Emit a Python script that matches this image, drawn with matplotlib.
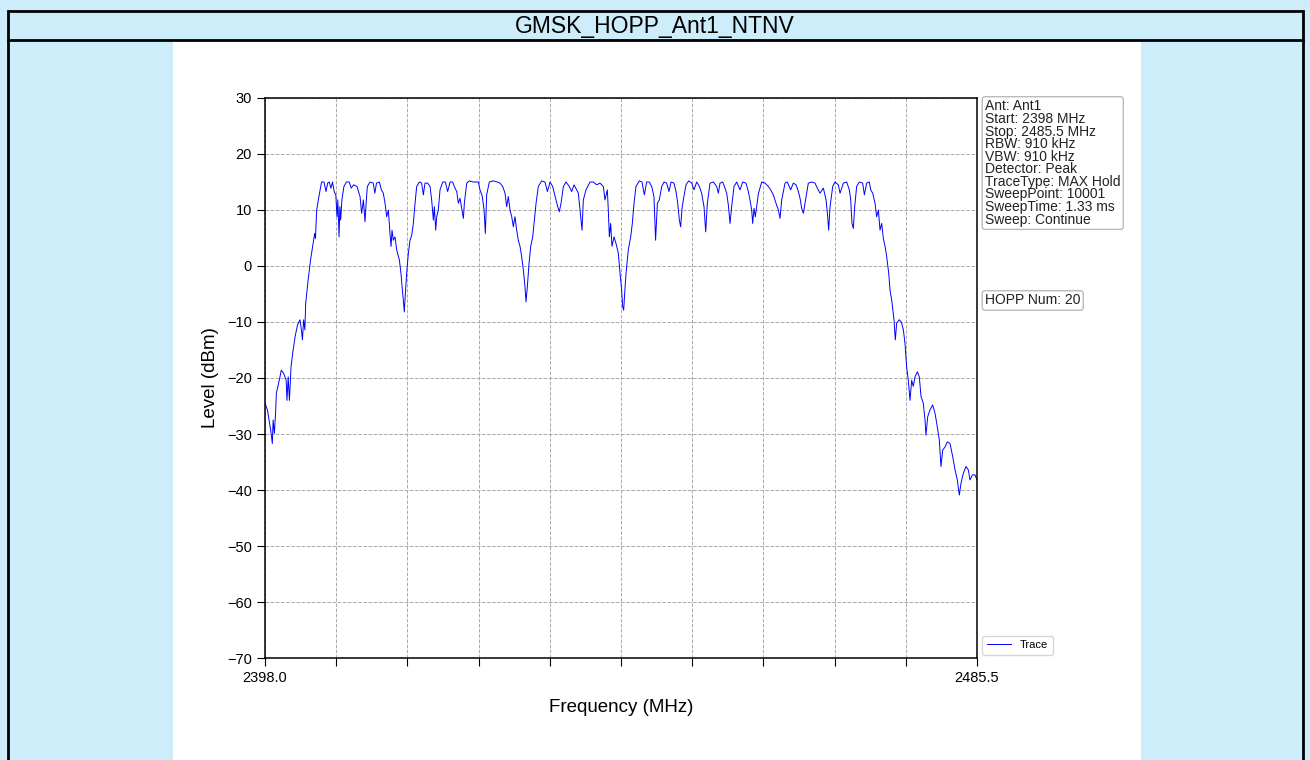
import matplotlib
matplotlib.use("Agg")
import matplotlib.pyplot as plt
from matplotlib.patches import Rectangle
from matplotlib.lines import Line2D

plt.rcParams["font.family"] = ["Liberation Sans", "DejaVu Sans"]

# trace (MHz, dBm)
freq = [
    2398.0, 2398.3, 2398.5, 2398.7, 2398.9, 2399.0, 2399.15, 2399.3, 2399.4, 2399.8,
    2400.0, 2400.3, 2400.6, 2400.7, 2400.85, 2401.0, 2401.2, 2401.4, 2401.7, 2402.0,
    2402.3, 2402.5, 2402.6, 2402.75, 2402.9, 2403.0, 2403.3, 2403.6, 2403.9, 2404.1,
    2404.2, 2404.35, 2404.7, 2404.95, 2405.25, 2405.5, 2405.7, 2405.9, 2406.1, 2406.3,
    2406.5, 2406.7, 2406.85, 2406.95, 2407.1, 2407.2, 2407.3, 2407.45, 2407.7, 2408.0,
    2408.35, 2408.6, 2408.9, 2409.3, 2409.68, 2409.88, 2410.09, 2410.29, 2410.41, 2410.58,
    2410.9, 2411.3, 2411.5, 2411.7, 2412.05, 2412.3, 2412.54, 2412.75, 2412.95, 2413.16,
    2413.36, 2413.49, 2413.61, 2413.77, 2413.98, 2414.18, 2414.51, 2414.71, 2414.88, 2415.0,
    2415.12, 2415.25, 2415.41, 2415.62, 2415.82, 2416.03, 2416.23, 2416.44, 2416.64, 2416.97,
    2417.25, 2417.46, 2417.66, 2417.99, 2418.28, 2418.48, 2418.69, 2418.81, 2418.98, 2419.1,
    2419.3, 2419.51, 2419.84, 2420.16, 2420.45, 2420.74, 2421.06, 2421.35, 2421.56, 2421.76,
    2421.97, 2422.17, 2422.38, 2422.5, 2422.79, 2423.11, 2423.6, 2423.93, 2424.22, 2424.42,
    2424.71, 2424.92, 2425.08, 2425.24, 2425.57, 2426.06, 2426.55, 2426.88, 2427.21, 2427.5,
    2427.7, 2427.9, 2428.11, 2428.32, 2428.52, 2428.72, 2428.93, 2429.13, 2429.34, 2429.54,
    2429.75, 2429.95, 2430.08, 2430.24, 2430.45, 2430.65, 2430.9, 2431.06, 2431.31, 2431.59,
    2432.0, 2432.41, 2432.7, 2433.03, 2433.35, 2433.56, 2433.76, 2433.97, 2434.17, 2434.38,
    2434.67, 2434.99, 2435.4, 2435.69, 2435.98, 2436.51, 2436.8, 2436.96, 2437.12, 2437.45,
    2437.94, 2438.35, 2438.76, 2439.17, 2439.58, 2439.78, 2440.07, 2440.19, 2440.32, 2440.48,
    2440.64, 2440.89, 2441.14, 2441.42, 2441.63, 2441.83, 2441.96, 2442.08, 2442.2, 2442.37,
    2442.65, 2442.94, 2443.14, 2443.35, 2443.59, 2444.0, 2444.33, 2444.62, 2444.9, 2445.23,
    2445.52, 2445.8, 2446.0, 2446.22, 2446.46, 2446.75, 2447.04, 2447.36, 2447.65, 2447.9,
    2448.26, 2448.51, 2448.72, 2448.92, 2449.08, 2449.25, 2449.41, 2449.74, 2450.07, 2450.44,
    2450.72, 2451.05, 2451.38, 2451.66, 2451.95, 2452.16, 2452.36, 2452.69, 2453.1, 2453.51,
    2453.71, 2453.92, 2454.25, 2454.53, 2454.74, 2454.94, 2455.15, 2455.35, 2455.64, 2455.97,
    2456.38, 2456.7, 2457.11, 2457.4, 2457.6, 2457.81, 2457.93, 2458.1, 2458.26, 2458.63,
    2459.04, 2459.45, 2459.86, 2460.14, 2460.47, 2460.8, 2461.09, 2461.29, 2461.5, 2461.91,
    2462.19, 2462.6, 2462.93, 2463.26, 2463.55, 2463.75, 2463.96, 2464.16, 2464.36, 2464.77,
    2465.18, 2465.59, 2465.88, 2466.21, 2466.62, 2466.95, 2467.15, 2467.27, 2467.44, 2467.77,
    2468.05, 2468.46, 2468.67, 2469.08, 2469.49, 2469.81, 2469.98, 2470.14, 2470.3, 2470.47,
    2470.71, 2471.04, 2471.45, 2471.66, 2471.94, 2472.27, 2472.44, 2472.68, 2472.97, 2473.17,
    2473.38, 2473.58, 2473.79, 2473.99, 2474.2, 2474.4, 2474.65, 2474.81, 2475.02, 2475.22,
    2475.3, 2475.46, 2475.63, 2475.95, 2476.2, 2476.45, 2476.65, 2476.85, 2477.06, 2477.27,
    2477.47, 2477.67, 2477.88, 2478.17, 2478.41, 2478.62, 2478.9, 2479.11, 2479.23, 2479.44,
    2479.72, 2480.05, 2480.34, 2480.62, 2480.87, 2481.07, 2481.28, 2481.57, 2481.85, 2482.18,
    2482.51, 2482.8, 2483.08, 2483.33, 2483.53, 2483.82, 2484.15, 2484.43, 2484.64, 2484.93,
    2485.25, 2485.5,
]
level = [
    -24.5, -25.7, -27.5, -29.3, -31.7, -27.5, -29.9, -26.3, -22.7, -20.1,
    -18.6, -19.2, -20.4, -24.0, -19.8, -24.0, -18.0, -15.6, -12.6, -10.5,
    -9.6, -11.7, -13.2, -9.6, -11.4, -6.7, -2.5, 1.1, 4.0, 5.8,
    4.9, 10.0, 13.0, 15.0, 15.0, 13.3, 14.8, 15.0, 13.9, 15.0,
    13.3, 12.7, 8.8, 11.8, 5.2, 10.6, 8.2, 11.8, 14.2, 15.0,
    15.0, 13.9, 14.5, 14.2, 12.4, 9.4, 11.8, 7.9, 10.9, 14.2,
    15.0, 14.8, 13.0, 14.8, 15.0, 13.6, 13.0, 11.2, 8.8, 10.0,
    5.8, 3.5, 6.4, 4.6, 5.2, 2.9, 1.1, -1.3, -4.3, -6.1,
    -8.2, -4.9, -1.3, 2.3, 4.6, 5.5, 7.6, 11.2, 14.2, 15.0,
    14.8, 12.7, 14.8, 14.8, 14.2, 11.8, 8.2, 10.6, 6.4, 8.8,
    10.0, 13.6, 15.0, 15.0, 13.3, 15.0, 15.0, 13.9, 13.3, 11.2,
    12.1, 10.3, 8.5, 11.2, 14.8, 15.2, 15.0, 15.0, 15.0, 13.6,
    12.4, 10.0, 5.8, 12.7, 15.0, 15.2, 15.0, 14.8, 14.2, 13.0,
    10.6, 12.4, 10.0, 8.8, 7.0, 8.8, 6.4, 4.6, 3.5, 1.7,
    -0.7, -3.7, -6.4, -3.7, 0.5, 3.5, 5.2, 7.6, 11.2, 14.2,
    15.2, 15.0, 13.3, 15.0, 14.2, 13.0, 11.8, 10.6, 9.7, 11.2,
    14.2, 15.0, 14.2, 13.3, 14.5, 13.0, 8.8, 6.4, 11.8, 13.6,
    15.0, 15.0, 14.5, 14.8, 14.2, 11.8, 13.6, 10.0, 5.2, 7.6,
    3.5, 5.2, 4.0, 2.3, -1.3, -4.3, -7.3, -7.9, -4.9, -1.3,
    2.9, 5.2, 7.6, 11.2, 14.2, 15.2, 15.0, 12.7, 15.0, 15.0,
    14.2, 12.4, 4.6, 11.2, 11.8, 14.2, 15.0, 14.8, 13.3, 15.0,
    14.8, 13.3, 11.2, 8.2, 7.0, 10.3, 11.8, 14.5, 15.2, 14.8,
    13.6, 15.0, 14.2, 13.0, 10.6, 6.1, 11.2, 14.8, 15.0, 14.2,
    13.0, 14.8, 15.0, 13.9, 13.0, 10.9, 7.6, 10.6, 14.2, 15.0,
    13.6, 15.0, 14.8, 13.3, 11.8, 10.0, 7.6, 10.3, 8.8, 12.9,
    15.0, 14.8, 14.2, 13.6, 12.7, 11.2, 10.0, 8.5, 11.8, 14.8,
    15.0, 13.6, 14.8, 14.5, 13.3, 12.1, 10.3, 9.4, 11.2, 14.8,
    15.0, 14.8, 13.9, 13.0, 13.9, 11.8, 8.8, 6.4, 10.6, 14.2,
    15.0, 14.5, 13.0, 14.8, 15.0, 13.6, 11.8, 7.6, 6.7, 10.6,
    14.2, 15.0, 14.8, 12.7, 14.8, 15.0, 13.6, 13.0, 11.2, 8.8,
    10.0, 6.4, 7.6, 4.9, 3.5, 1.7, -1.3, -4.3, -6.1, -8.5,
    -9.6, -13.2, -10.2, -9.6, -10.0, -11.4, -13.8, -18.0, -20.4, -24.0,
    -20.4, -21.5, -19.8, -18.9, -19.8, -23.3, -24.5, -27.5, -30.2, -26.9,
    -25.7, -24.8, -26.3, -28.7, -31.1, -35.8, -32.9, -32.3, -31.4, -31.7,
    -34.0, -36.4, -38.2, -40.9, -38.8, -37.0, -35.8, -36.4, -38.2, -37.3,
    -37.3, -38.2,
]

f_start = 2398.0
f_stop = 2485.5
x_ticks = [f_start + k * (f_stop - f_start) / 10 for k in range(11)]
x_labels = ["2398.0"] + [""] * 9 + ["2485.5"]
y_ticks = list(range(-70, 31, 10))

info_lines = [
    "Ant: Ant1",
    "Start: 2398 MHz",
    "Stop: 2485.5 MHz",
    "RBW: 910 kHz",
    "VBW: 910 kHz",
    "Detector: Peak",
    "TraceType: MAX Hold",
    "SweepPoint: 10001",
    "SweepTime: 1.33 ms",
    "Sweep: Continue",
]
hop_text = "HOPP Num: 20"
title = "GMSK_HOPP_Ant1_NTNV"

W, H = 1310, 760
fig = plt.figure(figsize=(W / 100, H / 100), dpi=100)
fig.patch.set_facecolor("#cdedfb")

def fx(px):
    return px / W

def fy(py):
    return 1 - py / H

# white panel and frame
fig.patches.append(Rectangle((fx(173), 0), fx(1141) - fx(173), fy(41), transform=fig.transFigure,
                             facecolor="white", edgecolor="none", zorder=-2))
fig.patches.append(Rectangle((fx(8), fy(40)), fx(1303) - fx(8), fy(11) - fy(40), transform=fig.transFigure,
                             facecolor="none", edgecolor="black", linewidth=2, zorder=-1))
fig.lines.append(Line2D([fx(8), fx(8)], [0, fy(40)], transform=fig.transFigure, color="black", linewidth=2))
fig.lines.append(Line2D([fx(1303), fx(1303)], [0, fy(40)], transform=fig.transFigure, color="black", linewidth=2))
fig.text(0.5, fy(26), title, ha="center", va="center", fontsize=16.5)

ax = fig.add_axes([fx(265), fy(658), fx(977) - fx(265), fy(98) - fy(658)])
ax.set_zorder(2)
ax.plot(freq, level, color="blue", linewidth=0.7, label="Trace")
ax.set_xlim(f_start, f_stop)
ax.set_ylim(-70, 30)
ax.set_xticks(x_ticks)
ax.set_xticklabels(x_labels)
ax.set_yticks(y_ticks)
ax.tick_params(direction="out", length=6, labelsize=10.5)
ax.grid(True, linestyle="--", color="#aaaaaa", linewidth=0.7)
ax.set_xlabel("Frequency (MHz)", fontsize=13.5, labelpad=10)
ax.set_ylabel("Level (dBm)", fontsize=13.5, labelpad=6)
for s in ax.spines.values():
    s.set_linewidth(1.1)

box = dict(boxstyle="round,pad=0.2", facecolor="white", edgecolor="#bbbbbb", linewidth=1)
fig.text(fx(985), fy(99.5), "\n".join(info_lines), ha="left", va="top", fontsize=10,
         linespacing=0.87, color="#222222", bbox=box, zorder=3)
fig.text(fx(985), fy(300.5), hop_text, ha="left", va="center", fontsize=10,
         color="#222222", bbox=box, zorder=3)

ax.legend(loc="lower left", bbox_to_anchor=(1.003, 0.0), fontsize=8, frameon=True,
          handlelength=2.2, borderaxespad=0.3, fancybox=True)

fig.savefig("out.png", dpi=100, facecolor=fig.get_facecolor())
